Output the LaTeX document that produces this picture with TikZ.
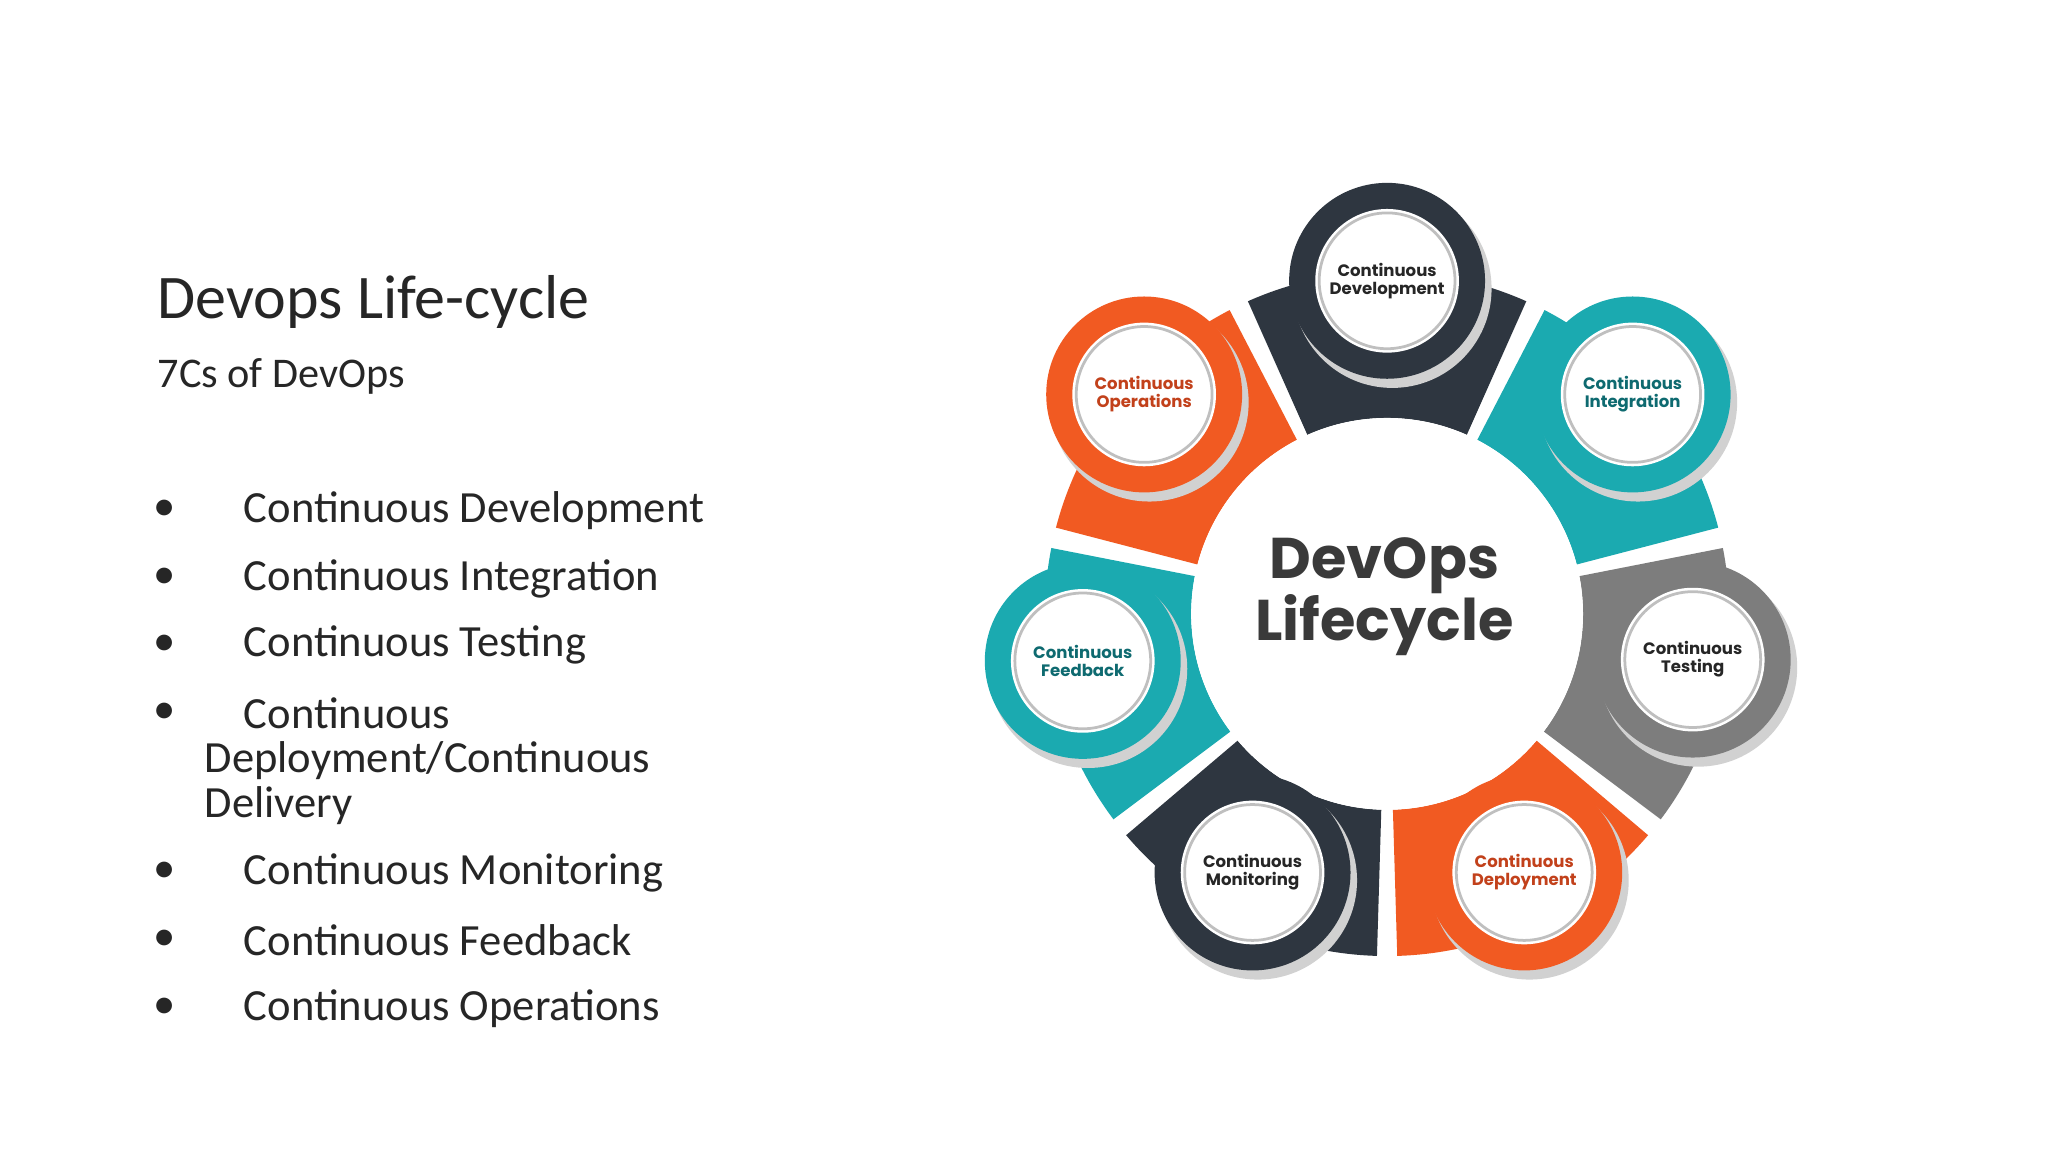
\documentclass[tikz,border=0pt]{standalone}
\usepackage{fontspec}
\setmainfont{Carlito}
\newfontfamily\pop{Poppins}
\definecolor{cdark}{HTML}{2E3640}
\definecolor{corange}{HTML}{F15A22}
\definecolor{cteal}{HTML}{1BAAB0}
\definecolor{cgrey}{HTML}{7D7D7D}
\definecolor{ctext}{HTML}{262626}
\definecolor{cotext}{HTML}{C2411B}
\definecolor{cttext}{HTML}{0E6A70}
\definecolor{cdtext}{HTML}{3A3A3A}
\tikzset{
  bul/.style={anchor=west,font=\fontsize{9.7pt}{11.6pt}\selectfont,text=ctext,inner sep=0},
  dot/.style={anchor=center,font=\fontsize{9.7pt}{11pt}\selectfont,text=ctext,inner sep=0},
  lbl/.style={font=\pop\bfseries\fontsize{3.6pt}{3.9pt}\selectfont,align=center,inner sep=0}
}
\newcommand{\stage}[6]{% name, x, y, colour, textcolour, label
  \fill[black!18] (#2+4,#3+6) circle[radius=76];
  \fill[#4] (#2,#3) circle[radius=75];
  \fill[white] (#2,#3) circle[radius=55];
  \draw[black!25,line width=0.6pt] (#2,#3) circle[radius=52];
  \node[lbl,text=#5] (#1) at (#2,#3) {#6};
}
\newcommand{\seg}[2]{% angle, colour
  \fill[#2] ({#1-24}:150) arc[start angle={#1-24},end angle={#1+24},radius=150]
     -- ({#1+24}:262) arc[start angle={#1+24},end angle={#1-24},radius=262] -- cycle;
}
\begin{document}
\begin{tikzpicture}[x=0.01cm,y=-0.01cm]
\useasboundingbox[fill=white] (0,0) rectangle (1568,882);
\node[anchor=west,font=\fontsize{13.5pt}{15pt}\selectfont,text=ctext,inner sep=0] (title) at (120,231) {Devops Life-cycle};
\node[anchor=west,font=\fontsize{9.2pt}{11pt}\selectfont,text=ctext,inner sep=0] (sub) at (120,288) {7Cs of DevOps};
\foreach \y/\t [count=\i] in {391/Continuous Development,443/Continuous Integration,494/Continuous Testing,668/Continuous Monitoring,720/Continuous Feedback,772/Continuous Operations}{
  \node[dot] (d\i) at (126,\y) {•};
  \node[bul] (b\i) at (186,\y) {\t};
}
\node[dot] (d7) at (126,546) {•};
\node[bul] (b7) at (186,546) {Continuous};
\node[bul] (b8) at (156,582) {Deployment/Continuous};
\node[bul] (b9) at (156,617) {Delivery};
\begin{scope}[shift={(1062,470)},x=0.01cm,y=0.01cm]
  \seg{90}{cdark}
  \seg{38.6}{cteal}
  \seg{-12.9}{cgrey}
  \seg{-64.3}{corange}
  \seg{-115.7}{cdark}
  \seg{-167.1}{cteal}
  \seg{141.4}{corange}
  \fill[white] (0,0) circle[radius=150];
\end{scope}
\stage{cdev}{1062}{215}{cdark}{ctext}{Continuous\\Development}
\stage{cint}{1250}{302}{cteal}{cttext}{Continuous\\Integration}
\stage{ctest}{1296}{505}{cgrey}{ctext}{Continuous\\Testing}
\stage{cdep}{1167}{668}{corange}{cotext}{Continuous\\Deployment}
\stage{cmon}{959}{668}{cdark}{ctext}{Continuous\\Monitoring}
\stage{cfb}{829}{506}{cteal}{cttext}{Continuous\\Feedback}
\stage{cops}{876}{302}{corange}{cotext}{Continuous\\Operations}
\node[font=\pop\bfseries\fontsize{12.5pt}{13.5pt}\selectfont,text=cdtext,align=center,inner sep=0] (center) at (1060,457) {DevOps\\Lifecycle};
\end{tikzpicture}
\end{document}
